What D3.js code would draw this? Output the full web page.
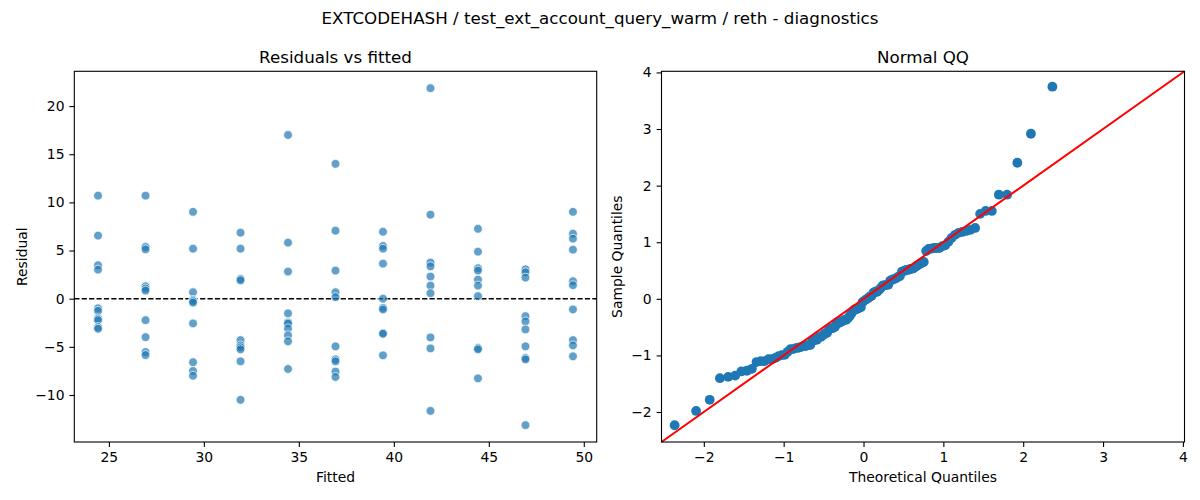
<!DOCTYPE html>
<html>
  <head>
    <meta charset="UTF-8">
    <style>
      body {
        margin: 0;
        background: white;
        font-family: 'DejaVu Sans', sans-serif;
      }

      .axis text {
        font-family: 'DejaVu Sans', sans-serif;
        font-size: 13.9px;
        fill: black;
      }

      .axis .tick line {
        stroke: black;
        stroke-width: 1.1;
      }

      .axis .domain {
        display: none;
      }

      .label {
        font-size: 13.9px;
        fill: black;
      }

      .title {
        font-size: 16.7px;
        fill: black;
      }
    </style>
    <script src="https://d3js.org/d3.v7.min.js"></script>
  </head>

  <body>
    <svg id="chart"></svg>

    <script type="text/javascript">
      const suptitle = 'EXTCODEHASH / test_ext_account_query_warm / reth - diagnostics'

      // fitted value of each group of runs
      const fittedLevels = [24.43, 26.93, 29.43, 31.93, 34.43, 36.93, 39.43, 41.93, 44.43, 46.93, 49.43]

      // residuals, one list per fitted level
      const residualsByLevel = [
        [10.7, 6.55, 3.47, 3.02, -1.0, -1.26, -2.05, -2.23, -2.95, -3.12],
        [10.7, 5.37, 5.12, 1.29, 1.05, 0.84, -2.23, -3.99, -5.54, -5.85],
        [9.02, 5.19, 0.67, -0.12, -0.25, -0.4, -2.57, -6.6, -7.5, -8.0],
        [6.85, 5.19, 2.05, 1.91, -4.3, -4.85, -5.05, -5.26, -6.5, -10.5],
        [17.0, 5.82, 2.82, -1.53, -2.46, -2.57, -3.09, -3.81, -4.43, -7.3],
        [14.0, 7.06, 2.92, 0.67, 0.16, -4.95, -6.3, -6.5, -7.57, -8.13],
        [6.95, 5.47, 5.19, 3.64, 0.0, -0.95, -1.12, -3.57, -3.64, -5.88],
        [21.86, 8.72, 3.75, 3.36, 2.30, 1.36, 0.57, -4.02, -5.16, -11.65],
        [7.26, 4.88, 3.16, 2.92, 1.98, 1.36, 0.26, -5.12, -5.26, -8.27],
        [3.05, 2.74, 2.19, -1.81, -2.36, -3.19, -4.95, -6.16, -6.3, -13.13],
        [9.02, 6.75, 6.23, 5.09, 1.81, 1.40, -1.12, -4.3, -4.85, -5.98]
      ]

      const fittedTicks = [25, 30, 35, 40, 45, 50]
      const residualTicks = [-10, -5, 0, 5, 10, 15, 20]
      const qqTicks = [-2, -1, 0, 1, 2, 3, 4]

      function getChartConfig() {
        let width = 1200
        let height = 500

        let left = { x0: 74.3, x1: 596.7, y0: 71.3, y1: 442 }
        let right = { x0: 661.5, x1: 1184.5, y0: 71.3, y1: 442 }

        let container = d3.select('#chart')
          .attr('width', width)
          .attr('height', height)

        return { width, height, left, right, container }
      }

      // Acklam's rational approximation of the normal quantile function
      function normalQuantile(p) {
        let a = [-3.969683028665376e+01, 2.209460984245205e+02, -2.759285104469687e+02,
          1.383577518672690e+02, -3.066479806614716e+01, 2.506628277459239e+00]
        let b = [-5.447609879822406e+01, 1.615858368580409e+02, -1.556989798598866e+02,
          6.680131188771972e+01, -1.328068155288572e+01]
        let c = [-7.784894002430293e-03, -3.223964580411365e-01, -2.400758277161838e+00,
          -2.549732539343734e+00, 4.374664141464968e+00, 2.938163982698783e+00]
        let d = [7.784695709041462e-03, 3.224671290700398e-01, 2.445134137142996e+00,
          3.754408661907416e+00]
        let pLow = 0.02425
        let q, r
        if (p < pLow) {
          q = Math.sqrt(-2 * Math.log(p))
          return (((((c[0]*q + c[1])*q + c[2])*q + c[3])*q + c[4])*q + c[5]) /
            ((((d[0]*q + d[1])*q + d[2])*q + d[3])*q + 1)
        }
        if (p > 1 - pLow) {
          q = Math.sqrt(-2 * Math.log(1 - p))
          return -(((((c[0]*q + c[1])*q + c[2])*q + c[3])*q + c[4])*q + c[5]) /
            ((((d[0]*q + d[1])*q + d[2])*q + d[3])*q + 1)
        }
        q = p - 0.5
        r = q * q
        return (((((a[0]*r + a[1])*r + a[2])*r + a[3])*r + a[4])*r + a[5])*q /
          (((((b[0]*r + b[1])*r + b[2])*r + b[3])*r + b[4])*r + 1)
      }

      function getPoints() {
        let points = []
        fittedLevels.forEach((f, i) => {
          residualsByLevel[i].forEach(r => points.push({ fitted: f, residual: r }))
        })
        return points
      }

      function getQuantiles(points) {
        let values = points.map(d => d.residual).sort(d3.ascending)
        let n = values.length
        let mean = d3.mean(values)
        let sd = Math.sqrt(d3.mean(values, v => (v - mean) * (v - mean)))
        return values.map((v, i) => ({
          theoretical: normalQuantile((i + 1) / (n + 1)),
          sample: (v - mean) / sd
        }))
      }

      function drawFrame(g, box) {
        g.append('rect')
          .attr('x', box.x0)
          .attr('y', box.y0)
          .attr('width', box.x1 - box.x0)
          .attr('height', box.y1 - box.y0)
          .attr('fill', 'none')
          .attr('stroke', 'black')
          .attr('stroke-width', 1.1)
      }

      function drawAxes(g, box, xScale, yScale, xTicks, yTicks) {
        g.append('g')
          .attr('class', 'axis')
          .attr('transform', `translate(0, ${box.y1})`)
          .call(d3.axisBottom(xScale)
            .tickValues(xTicks)
            .tickFormat(d3.format('d'))
            .tickSize(4.9)
            .tickPadding(4.9))

        g.append('g')
          .attr('class', 'axis')
          .attr('transform', `translate(${box.x0}, 0)`)
          .call(d3.axisLeft(yScale)
            .tickValues(yTicks)
            .tickFormat(d3.format('d'))
            .tickSize(4.9)
            .tickPadding(4.9))
      }

      function drawLabels(g, box, title, xLabel, yLabel, yLabelX) {
        let cx = (box.x0 + box.x1) / 2
        let cy = (box.y0 + box.y1) / 2

        g.append('text')
          .attr('class', 'title')
          .attr('x', cx)
          .attr('y', box.y0 - 8)
          .attr('text-anchor', 'middle')
          .text(title)

        g.append('text')
          .attr('class', 'label')
          .attr('x', cx)
          .attr('y', 482)
          .attr('text-anchor', 'middle')
          .text(xLabel)

        g.append('text')
          .attr('class', 'label')
          .attr('transform', `translate(${yLabelX}, ${cy}) rotate(-90)`)
          .attr('text-anchor', 'middle')
          .attr('dy', '0.35em')
          .text(yLabel)
      }

      function drawResiduals(points, config) {
        let box = config.left
        let g = config.container.append('g')

        let xScale = d3.scaleLinear()
          .domain([23.18, 50.68])
          .range([box.x0, box.x1])

        let yScale = d3.scaleLinear()
          .domain([-14.88, 23.61])
          .range([box.y1, box.y0])

        g.append('line')
          .attr('x1', box.x0)
          .attr('x2', box.x1)
          .attr('y1', yScale(0))
          .attr('y2', yScale(0))
          .attr('stroke', 'black')
          .attr('stroke-width', 1.4)
          .attr('stroke-dasharray', '5.2 2.2')

        g.append('g')
          .selectAll('circle')
          .data(points)
          .join('circle')
            .attr('cx', d => xScale(d.fitted))
            .attr('cy', d => yScale(d.residual))
            .attr('r', 4.4)
            .attr('fill', '#1f77b4')
            .attr('fill-opacity', 0.7)
            .attr('stroke', 'white')
            .attr('stroke-opacity', 0.7)
            .attr('stroke-width', 1)

        drawFrame(g, box)
        drawAxes(g, box, xScale, yScale, fittedTicks, residualTicks)
        drawLabels(g, box, 'Residuals vs fitted', 'Fitted', 'Residual', 22)
      }

      function drawQQ(quantiles, config) {
        let box = config.right
        let g = config.container.append('g')
        let lims = [-2.53, 4.02]

        let xScale = d3.scaleLinear()
          .domain(lims)
          .range([box.x0, box.x1])

        let yScale = d3.scaleLinear()
          .domain(lims)
          .range([box.y1, box.y0])

        g.append('g')
          .selectAll('circle')
          .data(quantiles)
          .join('circle')
            .attr('cx', d => xScale(d.theoretical))
            .attr('cy', d => yScale(d.sample))
            .attr('r', 4.9)
            .attr('fill', '#1f77b4')

        g.append('line')
          .attr('x1', xScale(lims[0]))
          .attr('y1', yScale(lims[0]))
          .attr('x2', xScale(lims[1]))
          .attr('y2', yScale(lims[1]))
          .attr('stroke', 'red')
          .attr('stroke-width', 2)

        drawFrame(g, box)
        drawAxes(g, box, xScale, yScale, qqTicks, qqTicks)
        drawLabels(g, box, 'Normal QQ', 'Theoretical Quantiles', 'Sample Quantiles', 617)
      }

      function showData() {
        let config = getChartConfig()
        let points = getPoints()
        let quantiles = getQuantiles(points)

        config.container.append('text')
          .attr('class', 'title')
          .attr('x', config.width / 2)
          .attr('y', 24)
          .attr('text-anchor', 'middle')
          .text(suptitle)

        drawResiduals(points, config)
        drawQQ(quantiles, config)
      }

      showData()
    </script>
  </body>
</html>
